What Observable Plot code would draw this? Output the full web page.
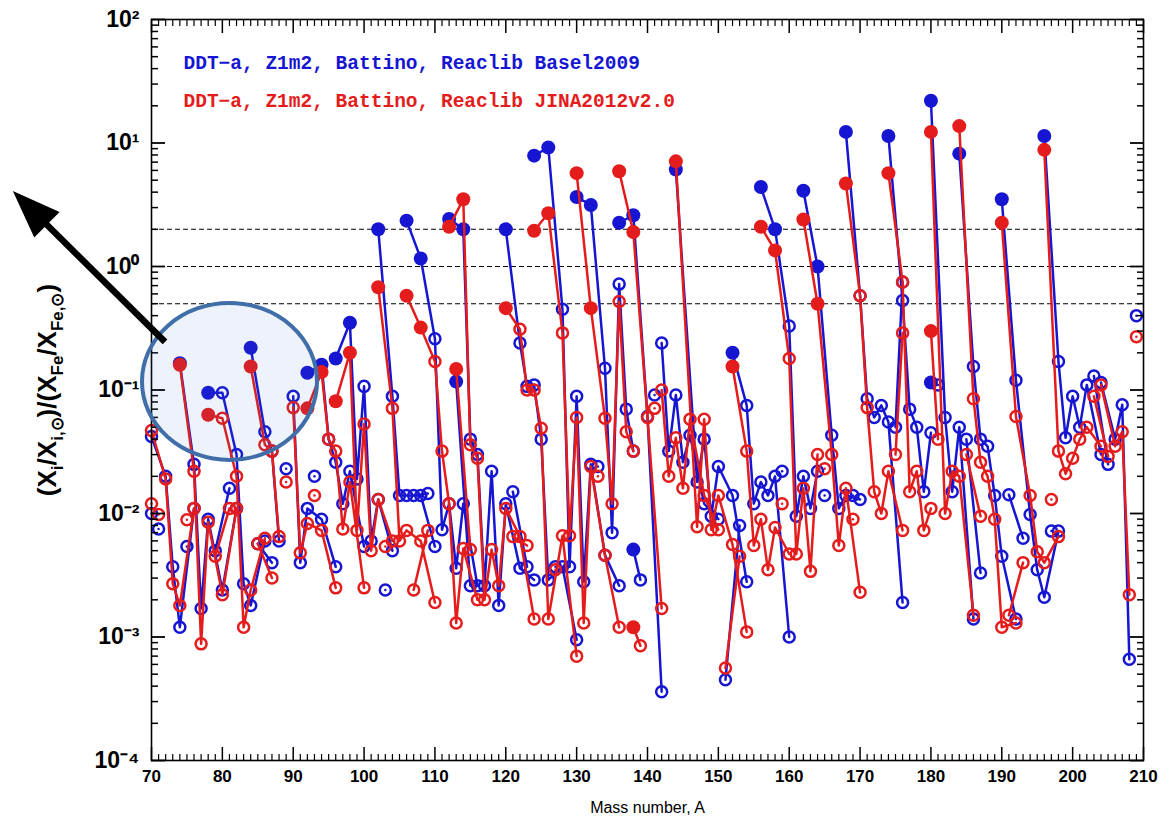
<!DOCTYPE html>
<html><head><meta charset="utf-8">
<script src="https://cdn.jsdelivr.net/npm/d3@7"></script>
<script src="https://cdn.jsdelivr.net/npm/@observablehq/plot@0.6"></script>
<style>
html,body{margin:0;padding:0;background:#fff;}
#chart{width:1170px;height:827px;}
</style></head><body><div id="chart"></div>
<script>
const elements = ["Zn","Ga","Ge","As","Se","Br","Kr","Rb","Sr","Y","Zr","Nb","Mo","Ru","Rh","Pd","Ag","Cd","In","Sn","Sb","Te","I","Xe","Cs","Ba","La","Ce","Pr","Nd","Sm","Eu","Gd","Tb","Dy","Ho","Er","Tm","Yb","Lu","Hf","Ta","W","Re","Os","Ir","Pt","Au","Hg","Tl","Pb","Bi"];
const masses = [[70],[71],[70,72,73,74,76],[75],[74,76,77,78,80,82],[79,81],[78,80,82,83,84,86],[85,87],[84,86,87,88],[89],[90,91,92,94,96],[93],[92,94,95,96,97,98,100],[96,98,99,100,101,102,104],[103],[102,104,105,106,108,110],[107,109],[106,108,110,111,112,113,114,116],[113,115],[112,114,115,116,117,118,119,120,122,124],[121,123],[120,122,123,124,125,126,128,130],[127],[124,126,128,129,130,131,132,134,136],[133],[130,132,134,135,136,137,138],[138,139],[136,138,140,142],[141],[142,143,144,145,146,148,150],[144,147,148,149,150,152,154],[151,153],[152,154,155,156,157,158,160],[159],[156,158,160,161,162,163,164],[165],[162,164,166,167,168,170],[169],[168,170,171,172,173,174,176],[175,176],[174,176,177,178,179,180],[180,181],[180,182,183,184,186],[185,187],[184,186,187,188,189,190,192],[191,193],[190,192,194,195,196,198],[197],[196,198,199,200,201,202,204],[203,205],[204,206,207,208],[209]];
// DDT-a, Z1m2, Battino, Reaclib Basel2009 (blue)
const basel2009 = [[0.010],[0.0075],[0.042,0.020,0.0037,0.0012,0.011],[0.0054],[0.165,0.025,0.0017,0.009,0.0024,0.011],[0.005,0.016],[0.095,0.095,0.03,0.0027,0.0018,0.006],[0.0057,0.004],[0.22,0.046,0.032,0.006],[0.023],[0.089,0.004,0.011,0.009,0.0037],[0.02],[0.138,0.16,0.04,0.026,0.012,0.022,0.0054],[0.18,0.35,0.019,0.107,0.006,0.013,0.005],[0.0024],[2.0,0.089,0.014,0.014,0.014,0.0054],[0.014,0.0145],[2.35,1.16,0.26,0.0074,0.012,0.0036,0.012,0.0026],[0.117,0.0026],[2.43,2.0,0.04,0.03,0.0026,0.022,0.0018,0.012,0.0036,0.0029],[0.015,0.0037],[2.0,0.24,0.107,0.11,0.04,0.0029,0.0037,0.00095],[0.0037],[7.9,9.2,0.45,0.0037,0.089,0.0028,0.025,0.0046,0.0026],[0.024],[3.65,3.15,0.15,0.007,0.72,0.07,0.032],[0.0051,0.0029],[2.26,2.6,0.061,0.00036],[0.091],[0.24,0.032,0.091,0.026,0.043,0.012,0.009],[6.1,0.018,0.04,0.0095,0.024,0.014,0.0028],[0.00045,0.008],[0.2,0.075,0.012,0.018,0.014,0.02,0.001],[0.022],[4.4,2.0,0.33,0.0095,0.02,0.011,0.022],[0.014],[4.1,1.0,0.043,0.011,0.014,0.013],[0.014],[12.3,0.58,0.085,0.06,0.075,0.055,0.0019],[0.05,0.75],[11.4,0.53,0.07,0.05,0.015,0.045],[0.115,0.11],[22,0.06,0.015,0.05,0.0014],[0.04,0.0033],[8.2,0.155,0.04,0.035,0.014,0.0045,0.0014],[0.0142,0.0063],[3.5,0.12,0.0098,0.0035,0.0021,0.0072],[0.0072],[11.4,0.17,0.041,0.089,0.05,0.11,0.03],[0.13,0.025],[0.115,0.04,0.076,0.00066],[0.4]];
// DDT-a, Z1m2, Battino, Reaclib JINA2012v2.0 (red)
const jina2012 = [[0.012],[0.0098],[0.047,0.019,0.0027,0.0018,0.011],[0.0089],[0.16,0.022,0.00088,0.0085,0.0022,0.011],[0.0045,0.011],[0.063,0.059,0.02,0.0012,0.0024,0.0063],[0.0057,0.003],[0.155,0.036,0.032,0.0065],[0.018],[0.072,0.0048,0.0083,0.0073,0.0025],[0.014],[0.071,0.14,0.04,0.032,0.0075,0.018,0.0025],[0.081,0.2,0.0073,0.053,0.005,0.013,0.006],[0.0054],[0.68,0.071,0.006,0.0073,0.006,0.0019],[0.0024,0.0073],[0.58,0.32,0.17,0.032,0.012,0.0013,0.0052,0.002],[0.148,0.0051],[2.1,3.5,0.036,0.028,0.002,0.0051,0.0026,0.011,0.0065,0.0014],[0.0065,0.0055],[0.46,0.31,0.1,0.1,0.049,0.0014,0.0066,0.0007],[0.0035],[1.95,2.7,0.29,0.0066,0.06,0.0013,0.024,0.0046,0.0012],[0.02],[5.7,0.46,0.059,0.012,0.52,0.046,0.032],[0.0012,0.00085],[5.9,1.9,0.06,0.0017],[0.071],[0.1,0.02,0.041,0.016,0.058,0.014,0.0074],[7.1,0.0078,0.058,0.0074,0.014,0.0056,0.0011],[0.00056,0.0045],[0.155,0.032,0.0055,0.009,0.0035,0.0077,0.0047],[0.012],[2.1,1.35,0.18,0.0047,0.016,0.0034,0.03],[0.023],[2.4,0.5,0.03,0.0055,0.016,0.0023],[0.009],[4.7,0.58,0.072,0.015,0.01,0.022,0.0073],[0.03,0.29],[5.7,0.75,0.015,0.022,0.0073,0.011],[0.3,0.04],[12.3,0.01,0.022,0.02,0.0015],[0.03,0.0095],[13.7,0.085,0.026,0.02,0.009,0.0012,0.0013],[0.0015,0.004],[2.26,0.061,0.014,0.0049,0.004,0.0065],[0.013],[8.8,0.032,0.021,0.028,0.04,0.05,0.035],[0.089,0.029],[0.11,0.035,0.046,0.0022],[0.27]];
// p-nuclei (filled symbols)
const pNuclei = ["Se74","Kr78","Sr84","Mo92","Mo94","Ru96","Ru98","Pd102","Cd106","Cd108","Sn112","In113","Sn114","Te120","Xe124","Xe126","Ba130","Ba132","La138","Ce136","Ce138","Sm144","Gd152","Dy156","Dy158","Er162","Er164","Yb168","Hf174","Ta180","W180","Os184","Pt190","Hg196"];
const guideLevels = [0.5, 1, 2];
const seriesLabels = ["DDT\u2212a, Z1m2, Battino, Reaclib Basel2009", "DDT\u2212a, Z1m2, Battino, Reaclib JINA2012v2.0"];
const xMajor = d3.range(70, 211, 10);
const xMinor = d3.range(70, 211, 1).filter(v => v % 10 !== 0);
const yMajor = d3.range(-4, 3).map(k => Math.pow(10, k));
const yMinor = d3.range(-4, 2).flatMap(k => d3.range(2, 10).map(m => m * Math.pow(10, k)));
// annotation (data units): arrow tail/tip, callout ellipse extent
const arrowTail = [71.98, 0.243];
const arrowTip = [50.5, 4.05];
const calloutA = [68.73, 93.43];
const calloutRatio = [0.502, 0.0269];

const BLUE = "#1616d2", RED = "#e41c1c";
const rows = [];
elements.forEach((el, i) => masses[i].forEach((A, j) => rows.push({
  element: el, A, basel: basel2009[i][j], jina: jina2012[i][j], p: pNuclei.includes(el + A)
})));

const sup = {"-":"\u207B","0":"\u2070","1":"\u00B9","2":"\u00B2","3":"\u00B3","4":"\u2074"};
const fmtPow = d => "10" + String(Math.round(Math.log10(d))).split("").map(c => sup[c]).join("");
const blank = () => "";
const tickFont = "Liberation Sans, Arial, sans-serif";

const plot = Plot.plot({
  width: 1170, height: 827,
  marginLeft: 151, marginRight: 27, marginTop: 19, marginBottom: 67,
  style: {background: "white", fontFamily: tickFont},
  x: {domain: [70, 210]},
  y: {type: "log", domain: [1e-4, 1e2]},
  marks: [
    Plot.ruleY(guideLevels, {stroke: "black", strokeWidth: 1.1, strokeDasharray: "5,3"}),
    Plot.line(rows, {x: "A", y: "basel", z: "element", stroke: BLUE, strokeWidth: 2.5}),
    Plot.dot(rows.filter(d => !d.p), {x: "A", y: "basel", r: 5.5, stroke: BLUE, strokeWidth: 2.5, fill: "none"}),
    Plot.dot(rows.filter(d => d.p), {x: "A", y: "basel", r: 7, fill: BLUE}),
    Plot.line(rows, {x: "A", y: "jina", z: "element", stroke: RED, strokeWidth: 2.5}),
    Plot.dot(rows.filter(d => !d.p), {x: "A", y: "jina", r: 5.5, stroke: RED, strokeWidth: 2.5, fill: "none"}),
    Plot.dot(rows.filter(d => d.p), {x: "A", y: "jina", r: 7, fill: RED}),
    Plot.axisX({ticks: xMajor, anchor: "bottom", tickSize: -13, tickPadding: 22, fontSize: 17, fontWeight: "bold", tickFormat: d => d, label: null, strokeWidth: 1.5}),
    Plot.axisX({ticks: xMinor, anchor: "bottom", tickSize: -6, tickFormat: blank, label: null, strokeWidth: 1.2}),
    Plot.axisX({ticks: xMajor, anchor: "top", tickSize: -13, tickFormat: blank, label: null, strokeWidth: 1.5}),
    Plot.axisX({ticks: xMinor, anchor: "top", tickSize: -6, tickFormat: blank, label: null, strokeWidth: 1.2}),
    Plot.axisY({ticks: yMajor, anchor: "left", tickSize: -14, tickPadding: 26, fontSize: 23, fontWeight: "bold", tickFormat: fmtPow, label: null, strokeWidth: 1.8}),
    Plot.axisY({ticks: yMinor, anchor: "left", tickSize: -7, tickFormat: blank, label: null, strokeWidth: 1.5}),
    Plot.axisY({ticks: yMajor, anchor: "right", tickSize: -14, tickFormat: blank, label: null, strokeWidth: 1.8}),
    Plot.axisY({ticks: yMinor, anchor: "right", tickSize: -7, tickFormat: blank, label: null, strokeWidth: 1.5}),
    Plot.frame({stroke: "black", strokeWidth: 1.6}),
    Plot.text([seriesLabels[0]], {frameAnchor: "top-left", dx: 32, dy: 49, lineAnchor: "bottom", textAnchor: "start", fill: BLUE, fontSize: 19.5, fontWeight: "bold", fontFamily: "Liberation Mono, DejaVu Sans Mono, monospace"}),
    Plot.text([seriesLabels[1]], {frameAnchor: "top-left", dx: 32, dy: 87, lineAnchor: "bottom", textAnchor: "start", fill: RED, fontSize: 19.5, fontWeight: "bold", fontFamily: "Liberation Mono, DejaVu Sans Mono, monospace"}),
    Plot.text(["Mass number, A"], {frameAnchor: "bottom", dy: 52, fontSize: 16, fill: "black"})
  ]
});
document.getElementById("chart").appendChild(plot);

// y-axis title with subscripts, and the callout annotation, placed via the plot's scales
const svg = d3.select(plot);
const sx = plot.scale("x"), sy = plot.scale("y");
const yl = svg.append("text")
  .attr("transform", "translate(56,390) rotate(-90)")
  .attr("text-anchor", "middle")
  .attr("font-family", tickFont).attr("font-weight", "bold").attr("font-size", 26).attr("fill", "black");
const parts = [["(X",0],["i",1],["/X",0],["i,\u2299",1],[")/(X",0],["Fe",1],["/X",0],["Fe,\u2299",1],[")",0]];
let shifted = false;
parts.forEach(([t, s]) => {
  const ts = yl.append("tspan").text(t);
  if (s && !shifted) { ts.attr("dy", 7).attr("font-size", 17); shifted = true; }
  else if (s) { ts.attr("font-size", 17); }
  else if (shifted) { ts.attr("dy", -7); shifted = false; }
});

const cx = (sx.apply(calloutA[0]) + sx.apply(calloutA[1])) / 2;
const rx = (sx.apply(calloutA[1]) - sx.apply(calloutA[0])) / 2;
const cy = (sy.apply(calloutRatio[0]) + sy.apply(calloutRatio[1])) / 2;
const ry = (sy.apply(calloutRatio[1]) - sy.apply(calloutRatio[0])) / 2;
svg.append("ellipse").attr("cx", cx).attr("cy", cy).attr("rx", rx).attr("ry", ry)
  .attr("fill", "#4472c4").attr("fill-opacity", 0.09)
  .attr("stroke", "#3f6ea8").attr("stroke-width", 4);

const tx = sx.apply(arrowTail[0]), ty = sy.apply(arrowTail[1]);
const hx = sx.apply(arrowTip[0]), hy = sy.apply(arrowTip[1]);
const ang = Math.atan2(hy - ty, hx - tx);
const headLen = 48, headHalf = 18;
const bx = hx - headLen * Math.cos(ang), by = hy - headLen * Math.sin(ang);
svg.append("line").attr("x1", tx).attr("y1", ty).attr("x2", bx + 4 * Math.cos(ang)).attr("y2", by + 4 * Math.sin(ang))
  .attr("stroke", "black").attr("stroke-width", 6.5);
svg.append("polygon").attr("points", [
  [hx, hy],
  [bx + headHalf * Math.sin(ang), by - headHalf * Math.cos(ang)],
  [bx - headHalf * Math.sin(ang), by + headHalf * Math.cos(ang)]
].map(p => p.join(",")).join(" ")).attr("fill", "black");
</script></body></html>
